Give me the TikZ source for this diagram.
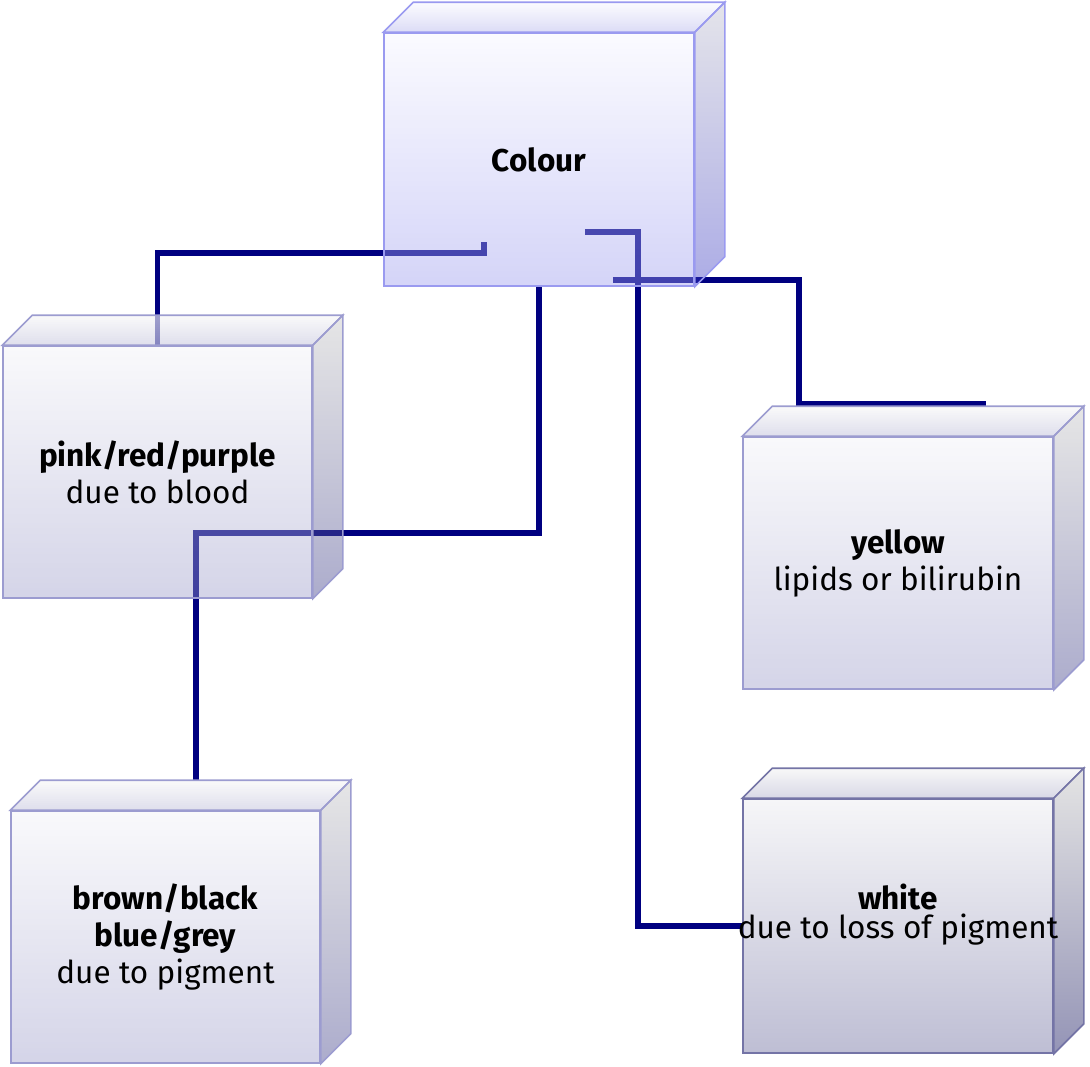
\documentclass[tikz,border=0pt]{standalone}
\usepackage{fontspec}
\setmainfont{Fira Sans}
\usetikzlibrary{calc}

\definecolor{navyline}{HTML}{000080}
% Colour box (translucent)
\definecolor{cBorder}{HTML}{9A9AF0}
\definecolor{cFrontT}{HTML}{F5F5FF}
\definecolor{cFrontB}{HTML}{9999EE}
\definecolor{cSideT}{HTML}{BFBFCD}
\definecolor{cSideB}{HTML}{3939C3}
\definecolor{cTopT}{HTML}{FAFAFF}
\definecolor{cTopB}{HTML}{C9C9F1}
% ordinary boxes (translucent)
\definecolor{bBorder}{HTML}{9C9CD0}
\definecolor{bFrontT}{HTML}{F1F1F6}
\definecolor{bFrontB}{HTML}{9999C8}
\definecolor{bSideT}{HTML}{C3C3C3}
\definecolor{bSideB}{HTML}{393986}
\definecolor{bTopT}{HTML}{F7F7F7}
\definecolor{bTopB}{HTML}{CCCCE2}
% darker, opaque box
\definecolor{wBorder}{HTML}{7474A6}
\definecolor{wFrontT}{HTML}{F6F6F8}
\definecolor{wFrontB}{HTML}{BEBED4}
\definecolor{wSideT}{HTML}{E4E4E4}
\definecolor{wSideB}{HTML}{9494B6}
\definecolor{wTopT}{HTML}{F8F8F8}
\definecolor{wTopB}{HTML}{D8D8E6}

\tikzset{
  conn/.style={draw=navyline, line width=5.5pt, line join=miter},
  spot/.style={minimum width=310pt, minimum height=253pt, inner sep=0pt},
  face/.style={minimum width=310pt, minimum height=253pt, inner sep=0pt,
    line width=1.6pt, fill opacity=0.42, text opacity=1, align=center,
    font=\fontsize{31.5}{37}\selectfont},
  cfront/.style={face, draw=cBorder, top color=cFrontT, bottom color=cFrontB},
  bfront/.style={face, draw=bBorder, top color=bFrontT, bottom color=bFrontB},
  wfront/.style={face, fill opacity=1, draw=wBorder, top color=wFrontT, bottom color=wFrontB},
  lbl/.style={align=center, inner sep=0pt, font=\fontsize{31.5}{29}\selectfont},
}

% top and side faces of a box whose front face is node #1;
% #7 and #8 are the opacities of the top and the side face
\newcommand\cubefaces[8]{%
  \path[draw=#6, line width=1.6pt, fill opacity=#7, top color=#4, bottom color=#5]
    (#1.north west) -- ++(30,-30) -- ($(#1.north east)+(30,-30)$) -- (#1.north east) -- cycle;
  \path[draw=#6, line width=1.6pt, fill opacity=#8, top color=#2, bottom color=#3]
    (#1.north east) -- ++(30,-30) -- ($(#1.south east)+(30,-30)$) -- (#1.south east) -- cycle;
}

\begin{document}
\begin{tikzpicture}[x=1pt, y=-1pt]
\useasboundingbox (0,0) rectangle (1090,1066);

% where the front faces sit
\node[spot] (colour) at (539,159.5) {};
\node[spot, minimum width=309pt, minimum height=252pt] (pink) at (157.5,472) {};
\node[spot, minimum height=252pt] (yellow) at (898,563) {};
\node[spot, minimum height=254pt] (white) at (898,926) {};
\node[spot, minimum width=309pt, minimum height=252pt] (brown) at (165.5,937) {};

% connectors, drawn beneath the boxes
\coordinate (yellowtop) at ($(yellow.north west)+(243,-33)$);
\coordinate (browntop) at ($(brown.north west)+(185,-30)$);
\draw[conn] ($(colour.south west)+(100,-44)$) -- ++(0,11) -| (pink.north);
\draw[conn] (colour.south) -- ($(colour.south)+(0,247)$) -| (browntop);
\draw[conn] ($(colour.south west)+(201,-54)$) -- ++(53,0) |- (white.west);
\draw[conn] ($(colour.south west)+(229,-6)$) -| ($(yellowtop)+(-187,0)$) -- (yellowtop);

% boxes
\node[cfront] (colourF) at (colour) {\raisebox{-3pt}{\textbf{Colour}}};
\cubefaces{colourF}{cSideT}{cSideB}{cTopT}{cTopB}{cBorder}{0.65}{0.42}

\node[bfront, minimum width=309pt, minimum height=252pt] (pinkF) at (pink)
  {\textbf{pink/red/purple}\\due to blood};
\cubefaces{pinkF}{bSideT}{bSideB}{bTopT}{bTopB}{bBorder}{0.65}{0.42}

\node[bfront, minimum height=252pt] (yellowF) at (yellow)
  {\textbf{yellow}\\lipids or bilirubin};
\cubefaces{yellowF}{bSideT}{bSideB}{bTopT}{bTopB}{bBorder}{0.65}{0.42}

\node[bfront, minimum width=309pt, minimum height=252pt] (brownF) at (brown)
  {\textbf{brown/black}\\\textbf{blue/grey}\\due to pigment};
\cubefaces{brownF}{bSideT}{bSideB}{bTopT}{bTopB}{bBorder}{0.65}{0.42}

\node[wfront, minimum height=254pt] (whiteF) at (white) {};
\cubefaces{whiteF}{wSideT}{wSideB}{wTopT}{wTopB}{wBorder}{1}{1}
\node[lbl] (whitetxt) at ($(whiteF.center)+(0,-11)$)
  {\textbf{white}\\due to loss of pigment};
\end{tikzpicture}
\end{document}
